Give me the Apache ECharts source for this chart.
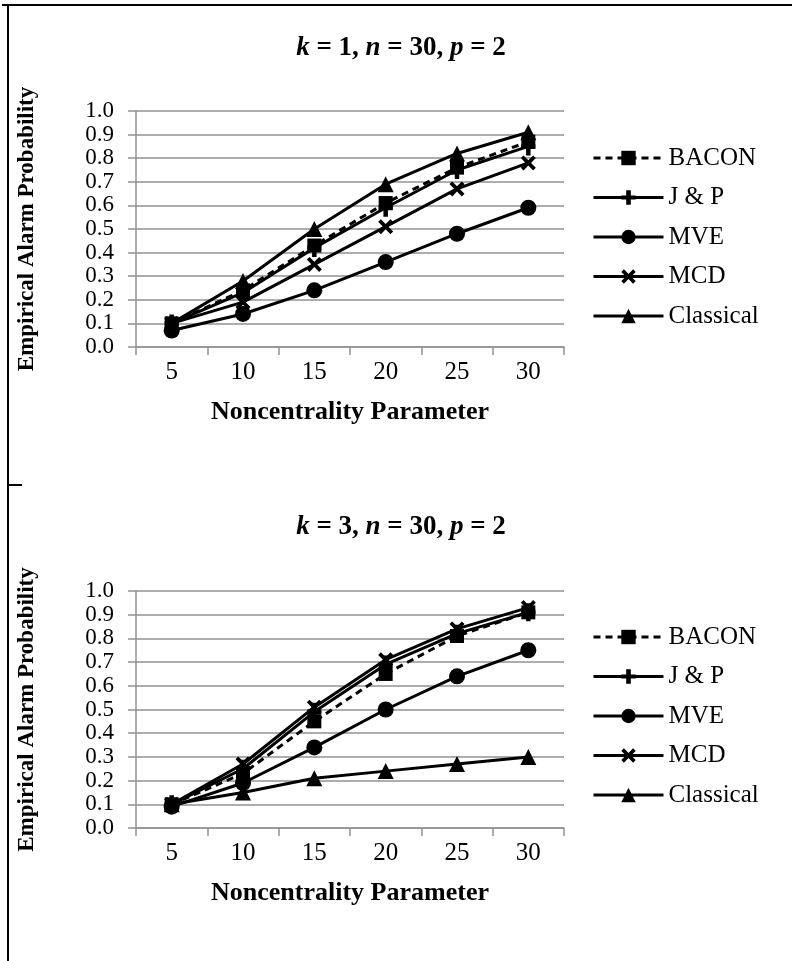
<!DOCTYPE html>
<html>
<head>
<meta charset="utf-8">
<title>Empirical Alarm Probability</title>
<script src="https://cdn.jsdelivr.net/npm/echarts@6/dist/echarts.min.js"></script>
<style>
  html, body { margin: 0; padding: 0; background: #fff; }
  #chart { width: 792px; height: 961px; }
</style>
</head>
<body>
<div id="chart"></div>
<script>
(function() {
  'use strict';

  // data
  var categories = ['5', '10', '15', '20', '25', '30'];
  var seriesNames = ['BACON', 'J & P', 'MVE', 'MCD', 'Classical'];

  // k = 1
  var bacon1 = [0.10, 0.24, 0.43, 0.61, 0.76, 0.87];
  var jp1 = [0.10, 0.23, 0.42, 0.59, 0.75, 0.85];
  var mve1 = [0.07, 0.14, 0.24, 0.36, 0.48, 0.59];
  var mcd1 = [0.10, 0.19, 0.35, 0.51, 0.67, 0.78];
  var classical1 = [0.10, 0.28, 0.50, 0.69, 0.82, 0.91];

  // k = 3
  var bacon3 = [0.10, 0.23, 0.45, 0.65, 0.81, 0.91];
  var jp3 = [0.10, 0.25, 0.49, 0.69, 0.82, 0.91];
  var mve3 = [0.09, 0.19, 0.34, 0.50, 0.64, 0.75];
  var mcd3 = [0.10, 0.27, 0.51, 0.71, 0.84, 0.93];
  var classical3 = [0.10, 0.15, 0.21, 0.24, 0.27, 0.30];

  var FONT = '"Liberation Serif", "Times New Roman", serif';
  var GRID_COLOR = '#929292';

  var plusPath = 'path://M3.4,0H6.6V3.6H10V6.4H6.6V10H3.4V6.4H0V3.6H3.4Z';
  var crossPath = 'path://M1.8,0L5,3.2L8.2,0L10,1.8L6.8,5L10,8.2L8.2,10L5,6.8L1.8,10L0,8.2L3.2,5L0,1.8Z';

  // marker + line style for each method
  var styles = {
    'BACON': { symbol: 'rect', size: 14, dash: [7, 5] },
    'J & P': { symbol: plusPath, size: [14, 18], dash: 'solid' },
    'MVE': { symbol: 'circle', size: 16, dash: 'solid' },
    'MCD': { symbol: crossPath, size: 15, dash: 'solid' },
    'Classical': { symbol: 'triangle', size: 16, dash: 'solid' }
  };

  function makeSeries(name, data, idx) {
    var st = styles[name];
    return {
      name: name,
      type: 'line',
      xAxisIndex: idx,
      yAxisIndex: idx,
      data: data,
      symbol: st.symbol,
      symbolSize: st.size,
      showAllSymbol: true,
      itemStyle: { color: '#000' },
      lineStyle: { color: '#000', width: 3, type: st.dash },
      emphasis: { disabled: true }
    };
  }

  function makeTitle(k, top) {
    return {
      text: '{i|k} = ' + k + ', {i|n} = 30, {i|p} = 2',
      left: 396,
      top: top,
      textAlign: 'center',
      textStyle: {
        fontFamily: FONT,
        fontSize: 27,
        fontWeight: 'bold',
        color: '#000',
        rich: {
          i: { fontFamily: FONT, fontSize: 27, fontWeight: 'bold', fontStyle: 'italic', color: '#000' }
        }
      }
    };
  }

  function makeXAxis(idx) {
    return {
      type: 'category',
      gridIndex: idx,
      data: categories,
      boundaryGap: true,
      name: 'Noncentrality Parameter',
      nameLocation: 'middle',
      nameGap: 52,
      nameTextStyle: { fontFamily: FONT, fontSize: 26, fontWeight: 'bold', color: '#000' },
      axisLine: { lineStyle: { color: GRID_COLOR, width: 1.5 } },
      axisTick: { show: true, length: 8, lineStyle: { color: GRID_COLOR, width: 1.5 } },
      axisLabel: { fontFamily: FONT, fontSize: 25, color: '#000', margin: 13 },
      splitLine: { show: false }
    };
  }

  function makeYAxis(idx) {
    return {
      type: 'value',
      gridIndex: idx,
      min: 0,
      max: 1,
      interval: 0.1,
      name: 'Empirical Alarm Probability',
      nameLocation: 'middle',
      nameRotate: 90,
      nameGap: 97,
      nameTextStyle: { fontFamily: FONT, fontSize: 23, fontWeight: 'bold', color: '#000' },
      axisLine: { show: true, lineStyle: { color: GRID_COLOR, width: 1.5 } },
      axisTick: { show: true, length: 8, lineStyle: { color: GRID_COLOR, width: 1.5 } },
      axisLabel: {
        fontFamily: FONT, fontSize: 23, lineHeight: 20, color: '#000', margin: 22,
        showMinLabel: true, showMaxLabel: true,
        formatter: function(v) { return v.toFixed(1); }
      },
      splitLine: { show: true, lineStyle: { color: GRID_COLOR, width: 1.5 } }
    };
  }

  function makeLegend(top) {
    return {
      orient: 'vertical',
      left: 592,
      top: top,
      padding: 0,
      itemWidth: 70,
      itemHeight: 18,
      itemGap: 14.5,
      selectedMode: false,
      data: seriesNames,
      lineStyle: { width: 3 },
      textStyle: { fontFamily: FONT, fontSize: 25, lineHeight: 25, color: '#000' }
    };
  }

  var myChart = echarts.init(document.getElementById('chart'), null, { renderer: 'canvas' });

  var option = {
    animation: false,
    backgroundColor: '#fff',
    title: [makeTitle(1, 30), makeTitle(3, 509)],
    legend: [makeLegend(145.5), makeLegend(624.5)],
    grid: [
      { left: 136, top: 111, width: 428, height: 236 },
      { left: 136, top: 591, width: 428, height: 237 }
    ],
    xAxis: [makeXAxis(0), makeXAxis(1)],
    yAxis: [makeYAxis(0), makeYAxis(1)],
    series: [
      makeSeries('BACON', bacon1, 0),
      makeSeries('J & P', jp1, 0),
      makeSeries('MVE', mve1, 0),
      makeSeries('MCD', mcd1, 0),
      makeSeries('Classical', classical1, 0),
      makeSeries('BACON', bacon3, 1),
      makeSeries('J & P', jp3, 1),
      makeSeries('MVE', mve3, 1),
      makeSeries('MCD', mcd3, 1),
      makeSeries('Classical', classical3, 1)
    ],
    // frame lines around the figure
    graphic: [
      { type: 'line', shape: { x1: 2, y1: 5, x2: 792, y2: 5 }, style: { stroke: '#000', lineWidth: 2 } },
      { type: 'line', shape: { x1: 8, y1: 5, x2: 8, y2: 961 }, style: { stroke: '#000', lineWidth: 2 } },
      { type: 'line', shape: { x1: 8, y1: 485, x2: 22, y2: 485 }, style: { stroke: '#000', lineWidth: 2 } }
    ]
  };

  myChart.setOption(option);
}());
</script>
</body>
</html>
